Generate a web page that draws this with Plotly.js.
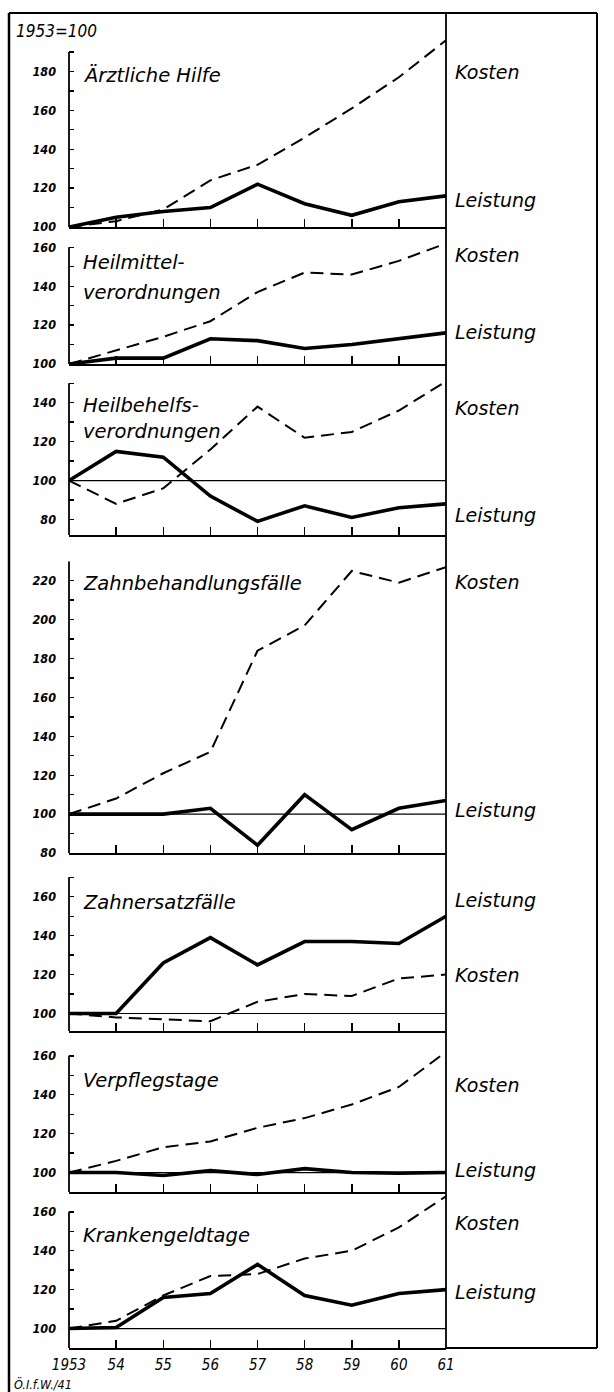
<!DOCTYPE html>
<html>
<head>
<meta charset="utf-8">
<script src="https://cdn.plot.ly/plotly-3.0.1.min.js"></script>
<style>html,body{margin:0;padding:0;background:#fff;}#chart{width:614px;height:1392px;}</style>
</head>
<body>
<div id="chart"></div>
<script>
// ---------- DATA ----------
const years = [1953, 1954, 1955, 1956, 1957, 1958, 1959, 1960, 1961];
const yearLabels = ['1953', '54', '55', '56', '57', '58', '59', '60', '61'];
const panelTitles = [
  ['Ärztliche Hilfe'],
  ['Heilmittel-', 'verordnungen'],
  ['Heilbehelfs-', 'verordnungen'],
  ['Zahnbehandlungsfälle'],
  ['Zahnersatzfälle'],
  ['Verpflegstage'],
  ['Krankengeldtage']
];
const kostenLabel = 'Kosten';
const leistungLabel = 'Leistung';
const baseLabel = '1953=100';
const sourceLabel = 'Ö.I.f.W./41';

const aerztKosten     = [100, 103, 109, 124, 132, 146, 161, 177, 196];
const aerztLeistung   = [100, 105, 108, 110, 122, 112, 106, 113, 116];
const heilmKosten     = [100, 107, 114, 122, 137, 147, 146, 153, 162];
const heilmLeistung   = [100, 103, 103, 113, 112, 108, 110, 113, 116];
const heilbKosten     = [100, 88, 96, 116, 138, 122, 125, 136, 151];
const heilbLeistung   = [100, 115, 112, 92, 79, 87, 81, 86, 88];
const zahnbKosten     = [100, 108, 121, 132, 184, 197, 225, 219, 227];
const zahnbLeistung   = [100, 100, 100, 103, 84, 110, 92, 103, 107];
const zahnerKosten    = [100, 98, 97, 96, 106, 110, 109, 118, 120];
const zahnerLeistung  = [100, 100, 126, 139, 125, 137, 137, 136, 150];
const verpflKosten    = [100, 106, 113, 116, 123, 128, 135, 144, 162];
const verpflLeistung  = [100, 100, 98.5, 101, 99, 102, 100, 99.7, 100];
const krankKosten     = [100, 104, 117, 127, 128, 136, 140, 152, 168];
const krankLeistung   = [100, 100.5, 116, 118, 133, 117, 112, 118, 120];

const kostenSeries = [aerztKosten, heilmKosten, heilbKosten, zahnbKosten, zahnerKosten, verpflKosten, krankKosten];
const leistungSeries = [aerztLeistung, heilmLeistung, heilbLeistung, zahnbLeistung, zahnerLeistung, verpflLeistung, krankLeistung];

// ---------- LAYOUT (positions / styles) ----------
const W = 614, H = 1392;
const S = 1.945; // px per index unit
const panelGeom = [
  {pixBottom: 227,  ymin: 100, top: 190, rtop: 198, ref100: false, titleY: [75],       kY: 72,   lY: 200},
  {pixBottom: 364,  ymin: 100, top: 160, rtop: 163, ref100: false, titleY: [263, 292], kY: 255,  lY: 332},
  {pixBottom: 535,  ymin: 72,  top: 150, rtop: 153, ref100: true,  titleY: [405, 432], kY: 408,  lY: 515},
  {pixBottom: 853,  ymin: 80,  top: 230, rtop: 230, ref100: true,  titleY: [583],      kY: 582,  lY: 810},
  {pixBottom: 1031, ymin: 91,  top: 170, rtop: 171, ref100: true,  titleY: [902],      kY: 975,  lY: 900},
  {pixBottom: 1192, ymin: 90,  top: 160, rtop: 163, ref100: true,  titleY: [1080],     kY: 1085, lY: 1170},
  {pixBottom: 1348, ymin: 90,  top: 160, rtop: 169, ref100: true,  titleY: [1235],     kY: 1223, lY: 1292}
];
const X0 = 69, X1 = 446, XR = 597, XL = 9, YT = 13;
const px = v => v / W;
const py = v => 1 - v / H;

const FONT_C = 'DejaVu Sans Condensed, DejaVu Sans, sans-serif';
const FONT_W = 'DejaVu Sans, sans-serif';
const ital = (fam, size, weight) => ({family: fam, size: size, color: '#000', style: 'italic', weight: weight || 'normal'});

const traces = [];
const layout = {
  width: W, height: H, autosize: false,
  margin: {l: 0, r: 0, t: 0, b: 0, pad: 0},
  paper_bgcolor: '#fff', plot_bgcolor: 'rgba(0,0,0,0)',
  showlegend: false,
  shapes: [], annotations: []
};

panelGeom.forEach((g, i) => {
  const n = i + 1;
  const xa = n === 1 ? 'x' : 'x' + n;
  const ya = n === 1 ? 'y' : 'y' + n;
  const xKey = n === 1 ? 'xaxis' : 'xaxis' + n;
  const yKey = n === 1 ? 'yaxis' : 'yaxis' + n;
  const pixTop = g.pixBottom - (g.rtop - g.ymin) * S;

  traces.push({x: years, y: kostenSeries[i], xaxis: xa, yaxis: ya, type: 'scatter', mode: 'lines',
    line: {color: '#000', width: 2, dash: '13px,7px'}, hoverinfo: 'skip'});
  traces.push({x: years, y: leistungSeries[i], xaxis: xa, yaxis: ya, type: 'scatter', mode: 'lines',
    line: {color: '#000', width: 3.6}, hoverinfo: 'skip'});

  const major = [], minor = [];
  for (let v = Math.ceil(g.ymin / 10) * 10; v <= g.top; v += 10) {
    if (v % 20 === 0) major.push(v); else minor.push(v);
  }
  const isLast = n === panelGeom.length;
  layout[xKey] = {
    domain: [px(X0), px(X1)], anchor: ya, range: [1953, 1961],
    showline: true, linecolor: '#000', linewidth: 1.8, mirror: false,
    showgrid: false, zeroline: false,
    tickmode: 'array', tickvals: years, ticktext: yearLabels,
    ticks: 'inside', ticklen: 8, tickwidth: 1.5, tickcolor: '#000',
    showticklabels: isLast, tickfont: ital(FONT_C, 15), ticklabelstandoff: 2,
    fixedrange: true
  };
  layout[yKey] = {
    domain: [py(g.pixBottom), py(pixTop)], anchor: xa, range: [g.ymin, g.rtop],
    showline: false, showgrid: false, zeroline: false,
    tickmode: 'array', tickvals: major, ticktext: major.map(String),
    ticks: 'inside', ticklen: 5, tickwidth: 1.4, tickcolor: '#000',
    minor: {tickmode: 'array', tickvals: minor, ticks: 'inside', ticklen: 5, tickwidth: 1.4, tickcolor: '#000', showgrid: false},
    tickfont: ital(FONT_C, 12.5, 'bold'), ticklabelstandoff: 12,
    fixedrange: true
  };
  layout.shapes.push({type: 'line', xref: xa + ' domain', yref: ya, x0: 0, x1: 0, y0: g.ymin, y1: g.top,
    line: {color: '#000', width: 1.8}});
  if (g.ref100) {
    layout.shapes.push({type: 'line', xref: xa + ' domain', yref: ya, x0: 0, x1: 1, y0: 100, y1: 100,
      line: {color: '#000', width: 1.2}, layer: 'below'});
  }
  panelTitles[i].forEach((t, k) => {
    layout.annotations.push({text: t, xref: 'paper', yref: 'paper', x: px(81), y: py(g.titleY[k]),
      xanchor: 'left', yanchor: 'middle', showarrow: false, font: ital(FONT_W, 19.5)});
  });
  layout.annotations.push({text: kostenLabel, xref: 'paper', yref: 'paper', x: px(453), y: py(g.kY),
    xanchor: 'left', yanchor: 'middle', showarrow: false, font: ital(FONT_W, 19)});
  layout.annotations.push({text: leistungLabel, xref: 'paper', yref: 'paper', x: px(453), y: py(g.lY),
    xanchor: 'left', yanchor: 'middle', showarrow: false, font: ital(FONT_W, 19)});
});

const frame = (x0, y0, x1, y1, w) => ({type: 'line', xref: 'paper', yref: 'paper',
  x0: px(x0), y0: py(y0), x1: px(x1), y1: py(y1), line: {color: '#000', width: w}});
layout.shapes.push(frame(XL, YT, XR, YT, 2.2));
layout.shapes.push(frame(XL, YT, XL, H, 2.5));
layout.shapes.push(frame(XR, YT, XR, 1348, 2));
layout.shapes.push(frame(X1, YT, X1, 1348, 1.8));
layout.shapes.push(frame(X1, 1348, XR, 1348, 2));

layout.annotations.push({text: baseLabel, xref: 'paper', yref: 'paper', x: px(14), y: py(31),
  xanchor: 'left', yanchor: 'middle', showarrow: false, font: ital(FONT_C, 17)});
layout.annotations.push({text: sourceLabel, xref: 'paper', yref: 'paper', x: px(12), y: py(1384),
  xanchor: 'left', yanchor: 'middle', showarrow: false, font: ital(FONT_C, 12.5)});

Plotly.newPlot('chart', traces, layout, {staticPlot: true, displayModeBar: false});
</script>
</body>
</html>
